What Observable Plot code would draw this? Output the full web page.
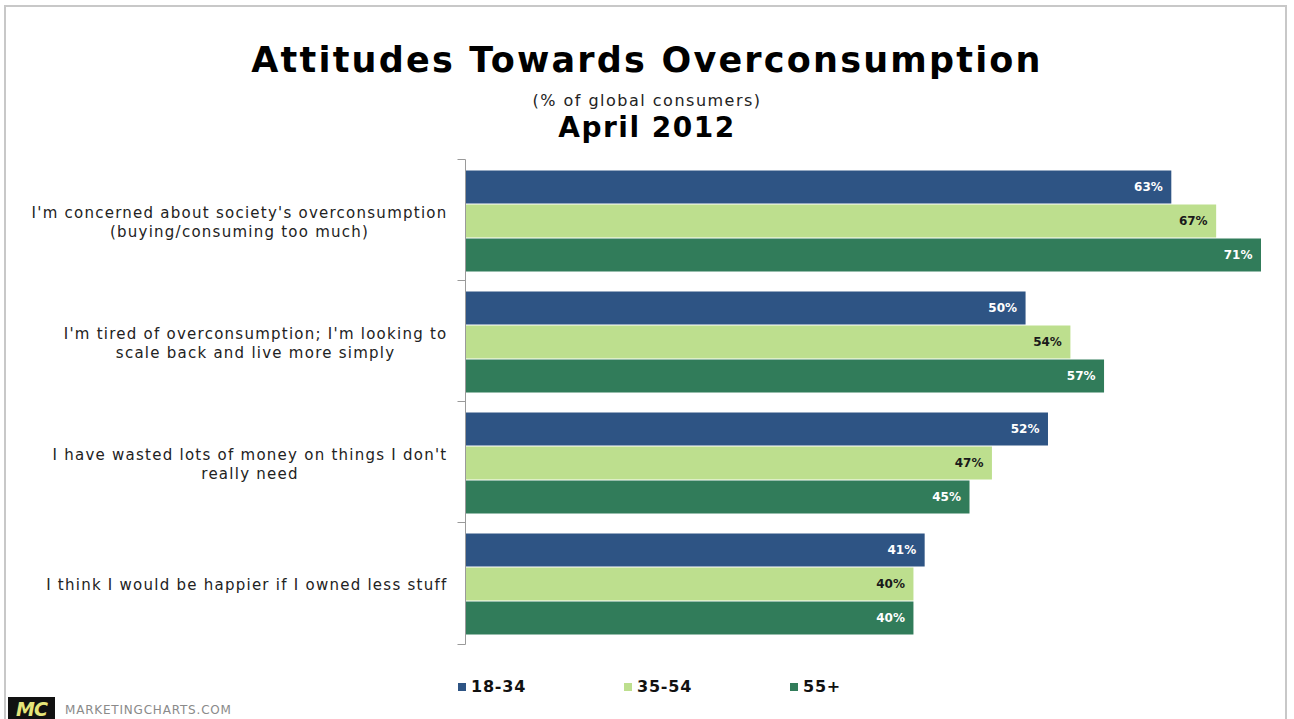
<!DOCTYPE html>
<html>
<head>
<meta charset="utf-8">
<script src="https://cdn.jsdelivr.net/npm/d3@7"></script>
<script src="https://cdn.jsdelivr.net/npm/@observablehq/plot@0.6"></script>
<style>
  html, body { margin: 0; padding: 0; background: #fff; }
  body { width: 1294px; height: 719px; position: relative; overflow: hidden; font-family: "DejaVu Sans", Verdana, sans-serif; }
  #frame { position: absolute; left: 4px; top: 5px; width: 1283px; height: 720px; border: 2px solid #c8c8c8; border-bottom: none; box-sizing: border-box; }
  #header { position: relative; height: 150px; }
  #title { position: absolute; left: 0; width: 1294px; top: 40px; text-align: center; font-weight: bold; font-size: 35px; line-height: 40px; color: #000; letter-spacing: 2.2px; }
  #subtitle { position: absolute; left: 0; width: 1294px; top: 92px; text-align: center; font-size: 16px; line-height: 18px; color: #222; letter-spacing: 1.5px; }
  #date { position: absolute; left: 0; width: 1294px; top: 112px; text-align: center; font-weight: bold; font-size: 28px; line-height: 32px; color: #000; letter-spacing: 1.5px; }
  #chart { position: absolute; left: 0; top: 150px; }
  #legend { position: absolute; top: 677px; left: 458px; display: flex; }
  .item { width: 166px; display: flex; align-items: center; font-weight: bold; font-size: 16px; color: #111; letter-spacing: 0.8px; }
  .sw { width: 8px; height: 8px; margin-right: 5px; }
  #logo { position: absolute; left: 8px; top: 697px; width: 47px; height: 24px; background: #111; color: #e6e57a; font-weight: bold; font-style: italic; font-size: 19px; line-height: 24px; text-align: center; letter-spacing: -1px; }
  #brand { position: absolute; left: 65px; top: 703px; font-size: 12px; color: #8a8a8a; letter-spacing: 0.8px; }
</style>
</head>
<body>
<div id="frame"></div>
<div id="header">
  <div id="title">Attitudes Towards Overconsumption</div>
  <div id="subtitle">(% of global consumers)</div>
  <div id="date">April 2012</div>
</div>
<div id="chart"></div>
<div id="legend"></div>
<div id="logo">MC</div>
<div id="brand">MARKETINGCHARTS.COM</div>
<script>
const categories = [
  "I'm concerned about society's overconsumption (buying/consuming too much)",
  "I'm tired of overconsumption; I'm looking to scale back and live more simply",
  "I have wasted lots of money on things I don't really need",
  "I think I would be happier if I owned less stuff"
];
const categoryLabels = [
  "I'm concerned about society's overconsumption\n(buying/consuming too much)",
  "I'm tired of overconsumption; I'm looking to\nscale back and live more simply",
  "I have wasted lots of money on things I don't\nreally need",
  "I think I would be happier if I owned less stuff"
];
const series = ["18-34", "35-54", "55+"];
const values18to34 = [63, 50, 52, 41];
const values35to54 = [67, 54, 47, 40];
const values55plus = [71, 57, 45, 40];
const seriesColors = ["#2e5484", "#bddf8e", "#317c5a"];
const labelColors = ["#ffffff", "#1a1a1a", "#ffffff"];

const seriesValues = [values18to34, values35to54, values55plus];
const data = [];
categories.forEach((c, ci) => {
  series.forEach((s, si) => data.push({category: c, series: s, value: seriesValues[si][ci]}));
});
const labelOf = new Map(categories.map((c, i) => [c, categoryLabels[i]]));

const plot = Plot.plot({
  width: 1294,
  height: 505,
  marginLeft: 465,
  marginRight: 33,
  marginTop: 8,
  marginBottom: 10,
  style: {fontFamily: "DejaVu Sans, Verdana, sans-serif", background: "transparent"},
  x: {domain: [0, 71], axis: null},
  y: {domain: series, padding: 0, axis: null},
  fy: {domain: categories, paddingInner: 0.15, paddingOuter: 0.08},
  color: {domain: series, range: seriesColors},
  marks: [
    Plot.barX(data, {x: "value", y: "series", fy: "category", fill: "series", insetTop: 0.5, insetBottom: 0.5}),
    ...series.map((s, i) => Plot.text(data.filter(d => d.series === s), {
      x: "value", y: "series", fy: "category",
      text: d => d.value + "%", textAnchor: "end", dx: -9,
      fill: labelColors[i], fontWeight: "bold", fontSize: 12
    })),
    Plot.ruleX([0], {stroke: "#9a9a9a", strokeWidth: 1, insetTop: -9.5, insetBottom: -9.5}),
    Plot.axisFy({
      anchor: "left", tickSize: 0, tickPadding: 18, fontSize: 15, fill: "#222",
      tickFormat: d => labelOf.get(d), label: null, lineHeight: 1.27
    })
  ]
});
document.getElementById("chart").appendChild(plot);

// center-align multi-line category labels as a right-aligned block
plot.querySelectorAll('g[aria-label="fy-axis tick label"] text').forEach(t => {
  t.style.letterSpacing = "1.25px";
  const spans = t.querySelectorAll("tspan");
  if (spans.length > 1) {
    let w = 0;
    spans.forEach(sp => { w = Math.max(w, sp.getComputedTextLength()); });
    t.setAttribute("text-anchor", "middle");
    spans.forEach(sp => sp.setAttribute("x", -w / 2));
  }
});

// small boundary ticks on the category axis line
const rules = plot.querySelectorAll('g[aria-label="rule"] line');
rules.forEach((ln, i) => {
  const ys = [+ln.getAttribute("y1")];
  if (i === rules.length - 1) ys.push(+ln.getAttribute("y2"));
  const x = +ln.getAttribute("x1");
  ys.forEach(y => {
    const tk = document.createElementNS("http://www.w3.org/2000/svg", "line");
    tk.setAttribute("x1", x - 8); tk.setAttribute("x2", x);
    tk.setAttribute("y1", y); tk.setAttribute("y2", y);
    tk.setAttribute("stroke", "#9a9a9a");
    ln.parentNode.appendChild(tk);
  });
});

const legend = document.getElementById("legend");
series.forEach((s, i) => {
  const it = document.createElement("div");
  it.className = "item";
  it.innerHTML = `<span class="sw" style="background:${seriesColors[i]}"></span>${s}`;
  legend.appendChild(it);
});
</script>
</body>
</html>
